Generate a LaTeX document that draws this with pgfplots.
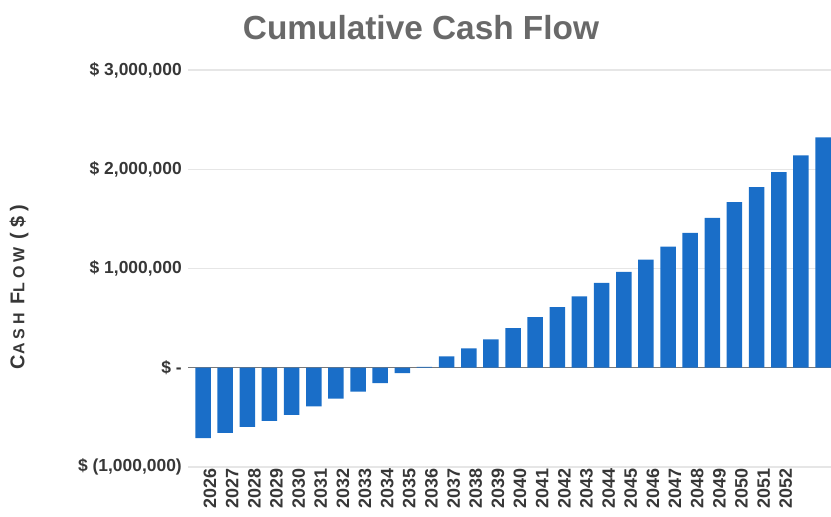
\documentclass[border=0pt]{standalone}
\usepackage{fontspec}
\setmainfont{Liberation Sans}
\newfontfamily\ylabfont[LetterSpace=25]{Liberation Sans}
\usepackage{pgfplots}
\pgfplotsset{compat=1.18}
\definecolor{barblue}{RGB}{26,110,200}
\definecolor{titlegray}{RGB}{105,105,105}
\definecolor{tickgray}{RGB}{55,55,55}
\definecolor{gridgray}{RGB}{230,230,230}
\definecolor{zerogray}{RGB}{120,120,120}
\begin{document}
\begin{tikzpicture}
\begin{axis}[
  scale only axis,
  width=643bp, height=397bp,
  at={(188bp,50bp)}, anchor=south west,
  xmin=-0.68, xmax=28.36,
  ymin=-1000000, ymax=3000000,
  scaled y ticks=false,
  ytick={-1000000,0,1000000,2000000,3000000},
  yticklabels={{\$ (1,000,000)},{\$ -},{\$ 1,000,000},{\$ 2,000,000},{\$ 3,000,000}},
  xtick={0,1,2,3,4,5,6,7,8,9,10,11,12,13,14,15,16,17,18,19,20,21,22,23,24,25,26},
  xticklabels={2026,2027,2028,2029,2030,2031,2032,2033,2034,2035,2036,2037,2038,2039,2040,2041,2042,2043,2044,2045,2046,2047,2048,2049,2050,2051,2052},
  x tick label style={rotate=90, anchor=east, font=\fontsize{18}{18}\selectfont\bfseries, text=tickgray, inner sep=1bp, yshift=-7bp},
  y tick label style={font=\fontsize{17.5}{17.5}\selectfont\bfseries, text=tickgray, inner sep=1bp, xshift=-5bp},
  axis line style={draw=none},
  major tick length=0pt,
  ymajorgrids,
  grid style={color=gridgray, line width=1.1pt},
  extra y ticks={0},
  extra y tick labels={},
  extra y tick style={grid style={color=zerogray, line width=0.9pt}},
  ybar, bar width=15.5bp,
]
\addplot[fill=barblue, draw=none] coordinates {
(0,-710000) (1,-655000) (2,-595000) (3,-535000) (4,-475000)
(5,-390000) (6,-310000) (7,-240000) (8,-155000) (9,-55000)
(10,8000) (11,115000) (12,195000) (13,285000) (14,400000)
(15,510000) (16,610000) (17,720000) (18,855000) (19,965000)
(20,1090000) (21,1220000) (22,1360000) (23,1510000) (24,1670000)
(25,1820000) (26,1970000) (27,2140000) (28,2320000)
};
\end{axis}
\node[font=\fontsize{33.5}{33.5}\selectfont\bfseries, text=titlegray] at (421bp,489bp) {Cumulative Cash Flow};
\node[rotate=90, font=\bfseries, text=tickgray] at (19bp,230bp) {\ylabfont\fontsize{20}{20}\selectfont C\fontsize{16}{16}\selectfont ASH \fontsize{20}{20}\selectfont F\fontsize{16}{16}\selectfont LOW \fontsize{20}{20}\selectfont (\$)};
\pgfresetboundingbox
\path[use as bounding box] (0,0) rectangle (831bp,517bp);
\end{tikzpicture}
\end{document}
